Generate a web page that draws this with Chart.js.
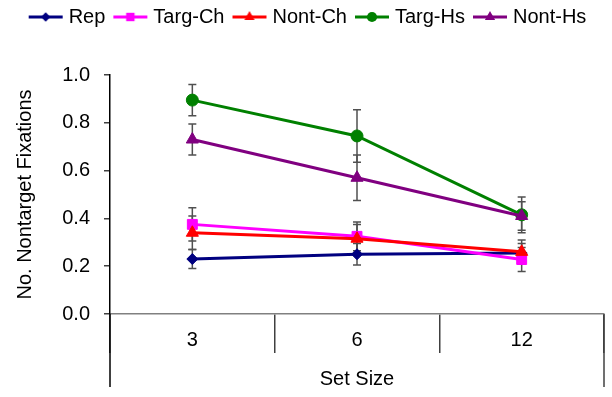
<!DOCTYPE html>
<html>
<head>
<meta charset="utf-8">
<script src="https://cdn.jsdelivr.net/npm/chart.js@4.4.0/dist/chart.umd.min.js"></script>
<style>
  html, body { margin: 0; padding: 0; background: #fff; }
  #wrap { width: 612px; height: 397px; }
</style>
</head>
<body>
<div id="wrap"><canvas id="chart" width="612" height="397"></canvas></div>
<script>
// data
const setSizes = ['3', '6', '12'];
const seriesNames = ['Rep', 'Targ-Ch', 'Nont-Ch', 'Targ-Hs', 'Nont-Hs'];
const repVals = [0.23, 0.25, 0.255];
const targChVals = [0.375, 0.325, 0.228];
const nontChVals = [0.34, 0.315, 0.26];
const targHsVals = [0.895, 0.745, 0.415];
const nontHsVals = [0.73, 0.57, 0.41];
// error bar half-lengths
const repErr = [0.04, 0.045, 0.04];
const targChErr = [0.07, 0.06, 0.05];
const nontChErr = [0.07, 0.06, 0.05];
const targHsErr = [0.065, 0.11, 0.075];
const nontHsErr = [0.065, 0.095, 0.06];
const yTicks = [0, 0.2, 0.4, 0.6, 0.8, 1.0];

const colors = ['#000080', '#ff00ff', '#ff0000', '#008000', '#800080'];
const markers = ['rectRot', 'rect', 'triangle', 'circle', 'triangle'];
const markerSize = [5.5, 7, 7, 6, 7];
const allVals = [repVals, targChVals, nontChVals, targHsVals, nontHsVals];
const allErr = [repErr, targChErr, nontChErr, targHsErr, nontHsErr];

const FONT = "'Liberation Sans', Arial, sans-serif";

// little line+marker pictures for the legend
function drawMarker(ctx, style, x, y, r) {
  ctx.beginPath();
  if (style === 'circle') {
    ctx.arc(x, y, r, 0, Math.PI * 2);
  } else if (style === 'rect') {
    const s = r * Math.SQRT1_2;
    ctx.rect(x - s, y - s, 2 * s, 2 * s);
  } else if (style === 'rectRot') {
    ctx.moveTo(x, y - r); ctx.lineTo(x + r, y); ctx.lineTo(x, y + r); ctx.lineTo(x - r, y);
    ctx.closePath();
  } else if (style === 'triangle') {
    ctx.moveTo(x, y - r);
    ctx.lineTo(x + r * 0.866, y + r * 0.5);
    ctx.lineTo(x - r * 0.866, y + r * 0.5);
    ctx.closePath();
  }
  ctx.fill();
}

const legendIcons = colors.map((c, i) => {
  const cv = document.createElement('canvas');
  cv.width = 36; cv.height = 20;
  const g = cv.getContext('2d');
  g.strokeStyle = c; g.fillStyle = c; g.lineWidth = 3;
  g.beginPath(); g.moveTo(1, 10); g.lineTo(35, 10); g.stroke();
  drawMarker(g, markers[i], 18, 10, markerSize[i] * 0.85);
  return cv;
});

// error bars + extended frame lines
const errorBars = {
  id: 'errorBars',
  beforeDatasetsDraw(chart) {
    const ctx = chart.ctx;
    const y = chart.scales.y;
    ctx.save();
    ctx.strokeStyle = '#505050';
    ctx.lineWidth = 1.5;
    chart.data.datasets.forEach((ds, di) => {
      const meta = chart.getDatasetMeta(di);
      meta.data.forEach((pt, i) => {
        const v = ds.data[i], e = ds.errors[i];
        const y1 = y.getPixelForValue(v + e), y2 = y.getPixelForValue(v - e);
        ctx.beginPath();
        ctx.moveTo(pt.x, y1); ctx.lineTo(pt.x, y2);
        ctx.moveTo(pt.x - 4, y1); ctx.lineTo(pt.x + 4, y1);
        ctx.moveTo(pt.x - 4, y2); ctx.lineTo(pt.x + 4, y2);
        ctx.stroke();
      });
    });
    ctx.restore();
  },
  afterDraw(chart) {
    const ctx = chart.ctx;
    const a = chart.chartArea;
    ctx.save();
    ctx.lineWidth = 1.5;
    ctx.strokeStyle = '#000';
    ctx.beginPath(); ctx.moveTo(a.left, a.bottom); ctx.lineTo(a.left, 387); ctx.stroke();
    ctx.strokeStyle = '#404040';
    ctx.beginPath(); ctx.moveTo(a.right, a.bottom); ctx.lineTo(a.right, 387); ctx.stroke();
    ctx.restore();
  }
};

const datasets = seriesNames.map((name, i) => ({
  label: name,
  data: allVals[i],
  errors: allErr[i],
  borderColor: colors[i],
  backgroundColor: colors[i],
  borderWidth: 3,
  tension: 0,
  pointStyle: markers[i],
  pointRadius: markerSize[i],
  pointBorderWidth: 1,
  pointBackgroundColor: colors[i],
  pointBorderColor: colors[i],
  order: 5 - i
}));

new Chart(document.getElementById('chart').getContext('2d'), {
  type: 'line',
  data: { labels: setSizes, datasets: datasets },
  plugins: [errorBars],
  options: {
    responsive: false,
    animation: false,
    layout: { padding: { left: 12, right: 5, top: -5, bottom: 0 } },
    scales: {
      x: {
        type: 'category',
        offset: true,
        grid: { offset: true, drawOnChartArea: false, drawTicks: true, tickLength: 39, color: '#404040', lineWidth: 1.5 },
        border: { color: '#808080', width: 1.5 },
        ticks: { font: { family: FONT, size: 20 }, color: '#000', padding: -25 },
        title: { display: true, text: 'Set Size', font: { family: FONT, size: 20 }, color: '#000', padding: { top: 0, bottom: 6 } },
        afterFit(s) { s.height = 83; }
      },
      y: {
        min: 0,
        max: 1,
        afterBuildTicks(s) { s.ticks = yTicks.map(v => ({ value: v })); },
        grid: { drawOnChartArea: false, drawTicks: true, tickLength: 6, color: '#404040', lineWidth: 1.5 },
        border: { color: '#000', width: 1.5 },
        ticks: { font: { family: FONT, size: 20 }, color: '#000', padding: 14, callback: v => v.toFixed(1) },
        title: { display: true, text: 'No. Nontarget Fixations', font: { family: FONT, size: 20 }, color: '#000', padding: { top: 1, bottom: 0 } },
        afterFit(s) { s.width = 98; }
      }
    },
    plugins: {
      tooltip: { enabled: false },
      title: { display: true, text: '', weight: 500, font: { size: 10, lineHeight: 1 }, padding: { top: 0, bottom: 28 } },
      legend: {
        position: 'top',
        labels: {
          usePointStyle: true,
          pointStyleWidth: 26,
          padding: 12,
          color: '#000',
          font: { family: FONT, size: 20 },
          sort: (a, b) => a.datasetIndex - b.datasetIndex,
          generateLabels(chart) {
            const items = Chart.defaults.plugins.legend.labels.generateLabels(chart);
            items.forEach(it => { it.pointStyle = legendIcons[it.datasetIndex]; });
            return items;
          }
        }
      }
    }
  }
});
</script>
</body>
</html>
